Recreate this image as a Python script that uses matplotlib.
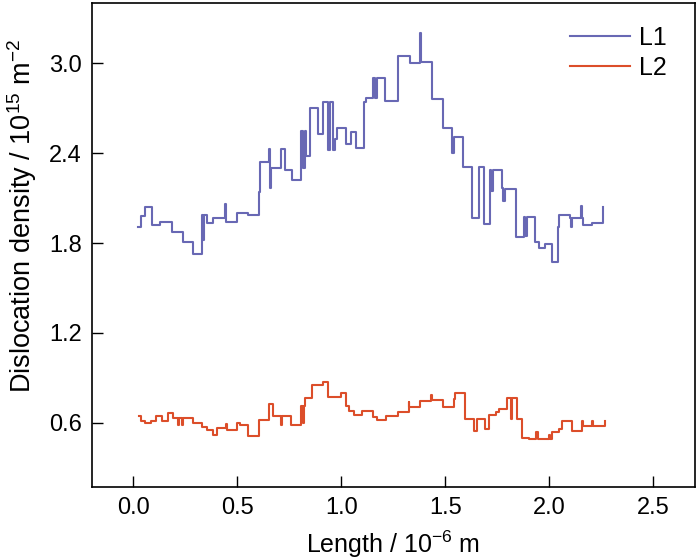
import numpy as np
import matplotlib
matplotlib.use('Agg')
import matplotlib.pyplot as plt

plt.rcParams['font.family'] = ['Liberation Sans', 'DejaVu Sans']
plt.rcParams['mathtext.default'] = 'regular'

# L1 step profile: start of each step (10^-6 m) and level (10^15 m^-2)
l1_x = [0.021, 0.037, 0.057, 0.090, 0.126, 0.185, 0.241, 0.289, 0.329, 0.334,
        0.342, 0.354, 0.383, 0.442, 0.446, 0.500, 0.552, 0.605, 0.608, 0.653,
        0.657, 0.663, 0.712, 0.731, 0.765, 0.808, 0.815, 0.825, 0.832, 0.851,
        0.887, 0.911, 0.937, 0.943, 0.962, 0.970, 0.978, 1.023, 1.047, 1.071,
        1.111, 1.119, 1.151, 1.163, 1.171, 1.212, 1.271, 1.274, 1.330, 1.378,
        1.382, 1.435, 1.489, 1.534, 1.540, 1.585, 1.630, 1.662, 1.686, 1.713,
        1.720, 1.730, 1.771, 1.775, 1.785, 1.841, 1.877, 1.882, 1.893, 1.930,
        1.949, 1.981, 2.010, 2.042, 2.046, 2.101, 2.103, 2.108, 2.152, 2.156,
        2.160, 2.204, 2.256]
l1_y = [1.91, 1.98, 2.04, 1.92, 1.94, 1.875, 1.805, 1.73, 1.99, 1.82,
        1.99, 1.935, 1.97, 2.06, 1.94, 2.00, 1.985, 2.14, 2.34, 2.43,
        2.17, 2.30, 2.43, 2.29, 2.22, 2.55, 2.30, 2.55, 2.38, 2.70,
        2.53, 2.74, 2.42, 2.74, 2.42, 2.495, 2.57, 2.46, 2.54, 2.435,
        2.74, 2.77, 2.90, 2.77, 2.90, 2.75, 2.80, 3.05, 3.00, 3.20,
        3.01, 2.76, 2.57, 2.40, 2.505, 2.305, 1.965, 2.31, 1.925, 2.29,
        2.15, 2.29, 2.17, 2.08, 2.16, 1.84, 1.975, 1.85, 1.975, 1.81,
        1.77, 1.795, 1.675, 1.91, 1.99, 1.965, 1.91, 1.965, 2.05, 1.965,
        1.92, 1.935, 2.04]

# L2 step profile
l2_x = [0.029, 0.037, 0.057, 0.085, 0.110, 0.137, 0.166, 0.193, 0.217, 0.221,
        0.235, 0.239, 0.289, 0.329, 0.353, 0.385, 0.401, 0.445, 0.449, 0.497,
        0.512, 0.552, 0.605, 0.653, 0.672, 0.712, 0.716, 0.760, 0.808, 0.814,
        0.820, 0.824, 0.861, 0.911, 0.935, 0.999, 1.023, 1.039, 1.063, 1.100,
        1.154, 1.170, 1.215, 1.271, 1.323, 1.327, 1.379, 1.431, 1.435, 1.486,
        1.542, 1.547, 1.595, 1.638, 1.654, 1.691, 1.710, 1.742, 1.758, 1.795,
        1.814, 1.819, 1.845, 1.866, 1.901, 1.933, 1.944, 1.997, 2.001, 2.013,
        2.045, 2.058, 2.106, 2.157, 2.161, 2.204, 2.208, 2.265]
l2_y = [0.648, 0.609, 0.598, 0.615, 0.648, 0.615, 0.664, 0.631, 0.587, 0.631,
        0.587, 0.631, 0.600, 0.571, 0.549, 0.516, 0.565, 0.593, 0.554, 0.598,
        0.582, 0.509, 0.620, 0.726, 0.648, 0.587, 0.648, 0.587, 0.711, 0.600,
        0.711, 0.764, 0.852, 0.874, 0.770, 0.799, 0.711, 0.682, 0.653, 0.682,
        0.638, 0.620, 0.642, 0.675, 0.741, 0.708, 0.748, 0.786, 0.755, 0.704,
        0.759, 0.799, 0.627, 0.542, 0.627, 0.556, 0.653, 0.671, 0.693, 0.764,
        0.627, 0.764, 0.627, 0.499, 0.489, 0.538, 0.489, 0.516, 0.489, 0.538,
        0.556, 0.609, 0.542, 0.609, 0.578, 0.609, 0.578, 0.615]

fig = plt.figure(figsize=(7, 5.6), dpi=100)
ax = fig.add_axes([0.131, 0.130, 0.862, 0.864])

ax.step(l1_x, l1_y, where='post', color='#6868b4', lw=1.5, label='L1')
ax.step(l2_x, l2_y, where='post', color='#dc4e2a', lw=1.5, label='L2')

ax.set_xlim(-0.2, 2.7)
ax.set_ylim(0.17, 3.4)
ax.set_xticks([0.0, 0.5, 1.0, 1.5, 2.0, 2.5])
ax.set_yticks([0.6, 1.2, 1.8, 2.4, 3.0])
ax.tick_params(direction='in', length=8, width=1, labelsize=17, pad=7)
for s in ax.spines.values():
    s.set_linewidth(1.2)

ax.set_xlabel('Length / 10$^{-6}$ m', fontsize=18, labelpad=7)
ax.set_ylabel('Dislocation density / 10$^{15}$ m$^{-2}$', fontsize=19.5,
              va='center')
ax.yaxis.set_label_coords(-0.116, 0.56)

ax.legend(loc='upper right', frameon=False, fontsize=18, handlelength=2.4,
          handletextpad=0.35, labelspacing=0.25, borderaxespad=0.5,
          bbox_to_anchor=(0.99, 1.0))

fig.savefig('out.png', dpi=100)
